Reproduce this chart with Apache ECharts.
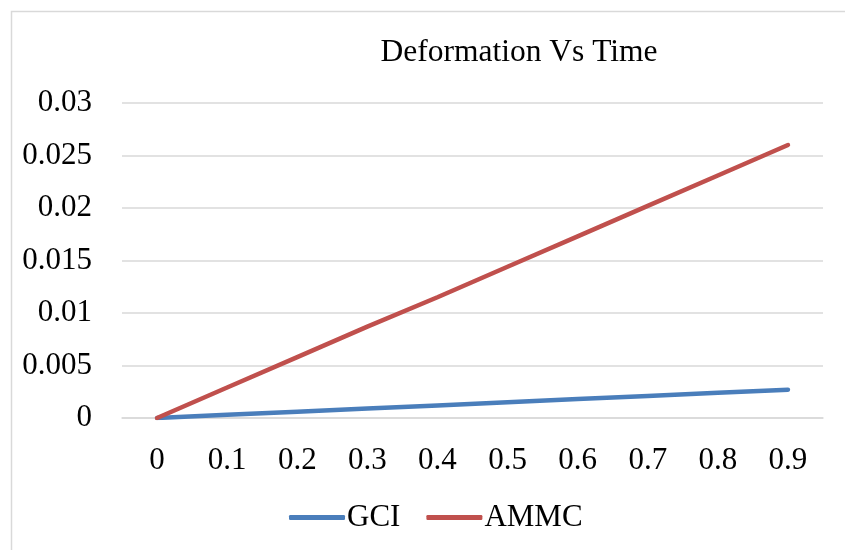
<!DOCTYPE html>
<html><head><meta charset="utf-8">
<script src="https://cdn.jsdelivr.net/npm/echarts@6/dist/echarts.min.js"></script>
<style>html,body{margin:0;padding:0;background:#fff}#c{width:845px;height:550px}</style>
</head><body><div id="c"></div>
<script>
var categories = ['0','0.1','0.2','0.3','0.4','0.5','0.6','0.7','0.8','0.9'];
var gciValues = [0, 0.0003, 0.0006, 0.0009, 0.0012, 0.0015, 0.0018, 0.0021, 0.0024, 0.0027];
var ammcValues = [0, 0.0029, 0.0058, 0.0087, 0.0115, 0.0144, 0.0173, 0.0202, 0.0231, 0.026];
var yTicks = [0, 0.005, 0.01, 0.015, 0.02, 0.025, 0.03];
var FONT = '"Liberation Serif", "Times New Roman", serif';
var FS = 31;
var chart = echarts.init(document.getElementById('c'));
chart.setOption({
  animation: false,
  backgroundColor: '#fff',
  graphic: [{type:'rect', shape:{x:11.5,y:11.5,width:900,height:600}, style:{fill:'none', stroke:'#d9d9d9', lineWidth:1.5}, z:-1}],
  title: {text:'Deformation Vs Time', left:519, top:37, textAlign:'center', padding:0,
    textStyle:{fontFamily:FONT, fontWeight:'normal', fontSize:31.5, color:'#000'}},
  legend: {top:502, left:289, padding:0, itemWidth:56, itemHeight:5, itemGap:26, icon:'roundRect',
    textStyle:{fontFamily:FONT, fontSize:FS, color:'#000', padding:[0,0,0,-3]},
    data:['GCI','AMMC']},
  grid: {left:122, right:22, top:103, bottom:132},
  xAxis: {type:'category', data:categories, boundaryGap:true,
    axisLine:{show:true, lineStyle:{color:'#d9d9d9', width:1.5}}, axisTick:{show:false},
    axisLabel:{fontFamily:FONT, fontSize:FS, color:'#000', margin:27}},
  yAxis: {type:'value', min:0, max:0.03, interval:0.005,
    axisLine:{show:false}, axisTick:{show:false},
    splitLine:{lineStyle:{color:'#d9d9d9', width:1.5}},
    axisLabel:{fontFamily:FONT, fontSize:FS, color:'#000', margin:30,
      formatter:function(v){ var t = yTicks.find(function(x){return Math.abs(x-v)<1e-9;}); return t===undefined? '' : String(t); }}},
  series: [
    {name:'GCI', type:'line', data:gciValues, showSymbol:false, symbol:'none', color:'#4a7ebb',
      lineStyle:{width:4.5, color:'#4a7ebb', cap:'round'}},
    {name:'AMMC', type:'line', data:ammcValues, showSymbol:false, symbol:'none', color:'#c0504d',
      lineStyle:{width:4.5, color:'#c0504d', cap:'round'}}
  ]
});
</script></body></html>
